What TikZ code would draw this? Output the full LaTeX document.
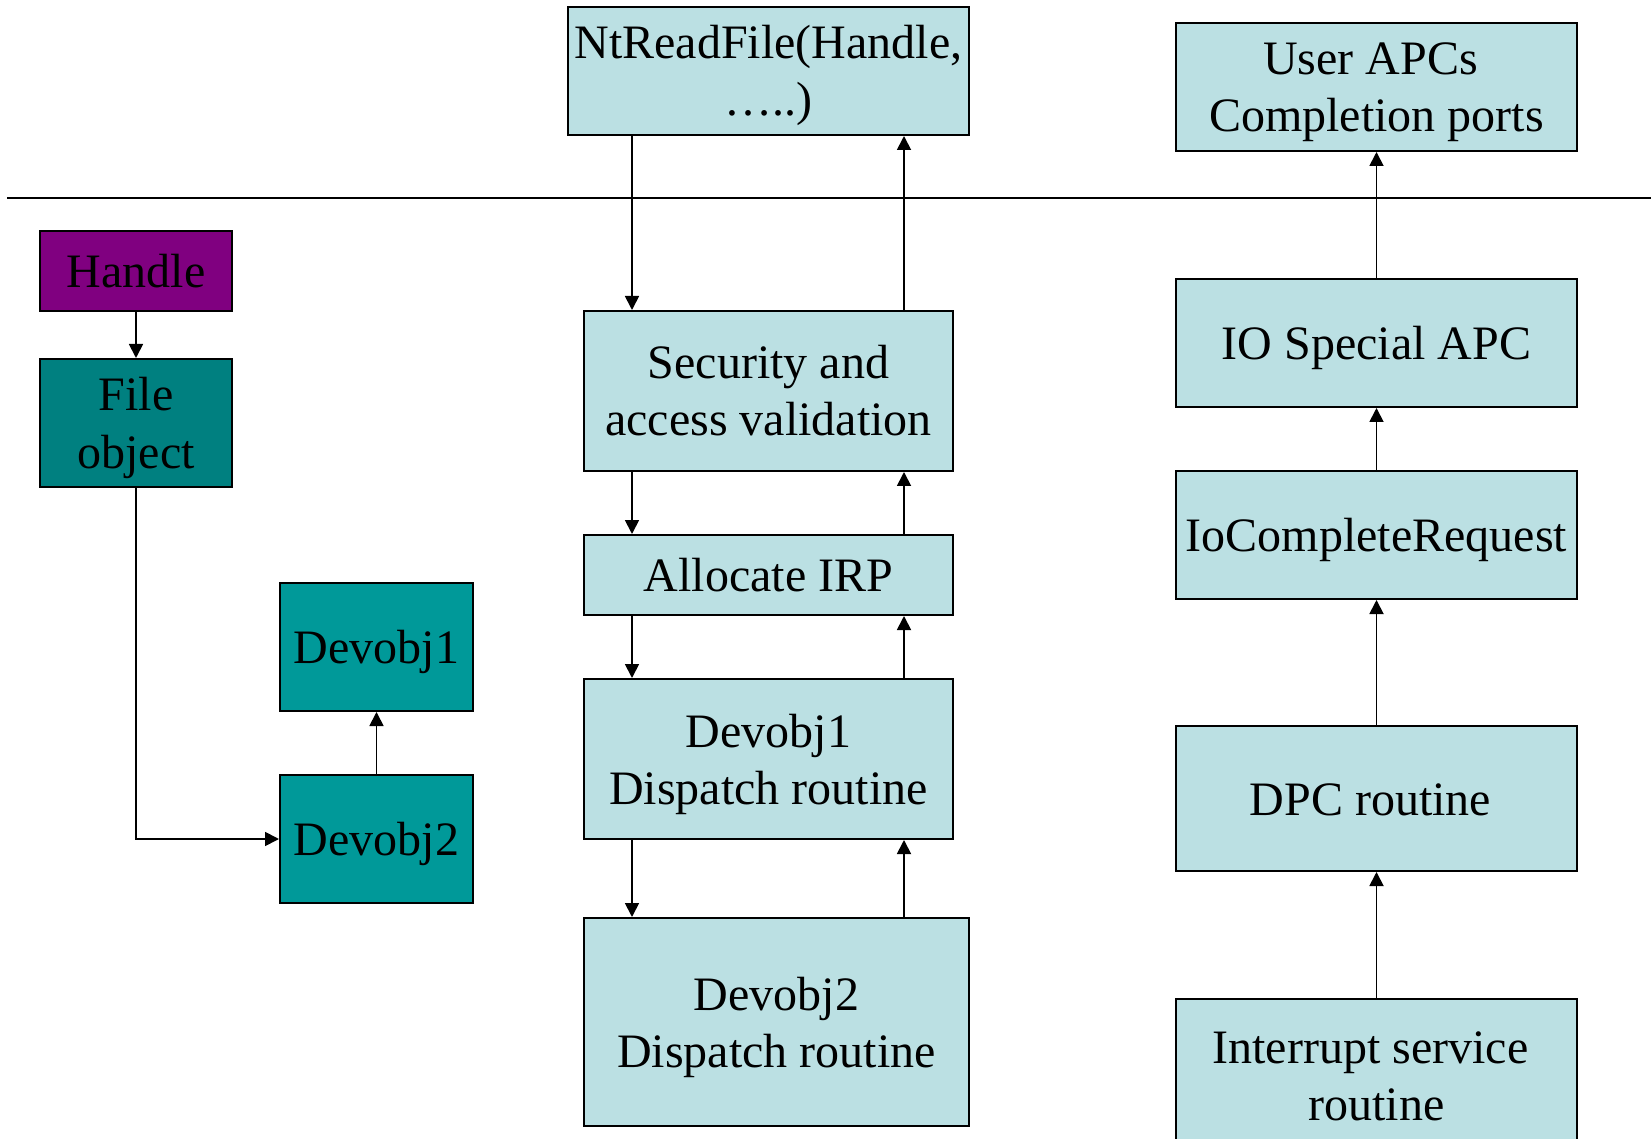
\documentclass[tikz,border=0pt]{standalone}
\usepackage{fontspec}
\setmainfont{Liberation Serif}
\usetikzlibrary{arrows.meta}
\definecolor{paleblue}{RGB}{187,224,227}
\definecolor{plum}{RGB}{128,0,128}
\definecolor{darkteal}{RGB}{0,128,128}
\definecolor{midteal}{RGB}{0,153,153}
% fixed line strut so that every label sits at the same height
\newcommand\ls{\rule[-6pt]{0pt}{28.5pt}}
% trailing word space kept at the end of a line
\newcommand\tsp{\hspace{6pt}\mbox{}}

\begin{document}
\begin{tikzpicture}[x=0.5pt,y=-0.5pt,
  box/.style={draw=black, line width=1pt, fill=paleblue, inner sep=0pt,
    align=center, font=\fontsize{24pt}{28.5pt}\selectfont},
  sz/.style 2 args={minimum width=#1*0.5pt, minimum height=#2*0.5pt},
  arr/.style={-{Triangle[length=7pt,width=7pt]}, line width=0.9pt},
  sep/.style={line width=1pt}]
\clip (0,0) rectangle (1651,1139);

% user / kernel boundary
\coordinate (sepL) at (7,198);
\coordinate (sepR) at (1651,198);
\draw[sep] (sepL) -- (sepR);

% columns of the request path
\coordinate (down) at (632,0);
\coordinate (up) at (904,0);

% left column: handle to device objects
\node[box, fill=plum, sz={192}{80}] (handle) at (136,271) {\ls Handle};
\node[box, fill=darkteal, sz={192}{128}] (fileobj) at (136,423) {\ls File\\\ls object};
\node[box, fill=midteal, sz={193}{128}] (devA) at (376.5,647) {\ls Devobj1};
\node[box, fill=midteal, sz={193}{128}] (devB) at (376.5,839) {\ls Devobj2};

% middle column: request dispatch
\node[box, sz={401}{128}] (ntread) at (768.5,71) {\ls NtReadFile(Handle,\\\ls …..)};
\node[box, sz={369}{160}] (secur) at (768.5,391) {\ls Security and\\\ls access validation};
\node[box, sz={369}{80}] (alloc) at (768.5,575) {\ls Allocate IRP};
\node[box, sz={369}{160}] (disp1) at (768.5,759) {\ls Devobj1\\\ls Dispatch routine};
\node[box, sz={385}{208}] (disp2) at (776.5,1022) {\ls Devobj2\\\ls Dispatch routine};

% right column: completion
\node[box, sz={401}{128}] (userapc) at (1376.5,87) {\ls User APCs\tsp\\\ls Completion ports};
\node[box, sz={401}{128}] (iospec) at (1376.5,343) {\ls IO Special APC};
\node[box, sz={401}{128}] (iocomp) at (1376.5,535) {\ls IoCompleteRequest};
\node[box, sz={401}{145}] (dpc) at (1376.5,798.5) {\ls DPC routine\tsp};
\node[box, sz={401}{152}] (isr) at (1376.5,1075) {\ls Interrupt service\tsp\\\ls routine};

% left connectors
\draw[arr] (handle) -- (fileobj);
\draw[arr] (fileobj.south) |- (devB.west);
\draw[arr] (devB) -- (devA);

% middle connectors
\draw[arr] (ntread.south -| down) -- (secur.north -| down);
\draw[arr] (secur.north -| up) -- (ntread.south -| up);
\draw[arr] (secur.south -| down) -- (alloc.north -| down);
\draw[arr] (alloc.north -| up) -- (secur.south -| up);
\draw[arr] (alloc.south -| down) -- (disp1.north -| down);
\draw[arr] (disp1.north -| up) -- (alloc.south -| up);
\draw[arr] (disp1.south -| down) -- (disp2.north -| down);
\draw[arr] (disp2.north -| up) -- (disp1.south -| up);

% right connectors
\draw[arr] (iospec) -- (userapc);
\draw[arr] (iocomp) -- (iospec);
\draw[arr] (dpc) -- (iocomp);
\draw[arr] (isr) -- (dpc);
\end{tikzpicture}
\end{document}
